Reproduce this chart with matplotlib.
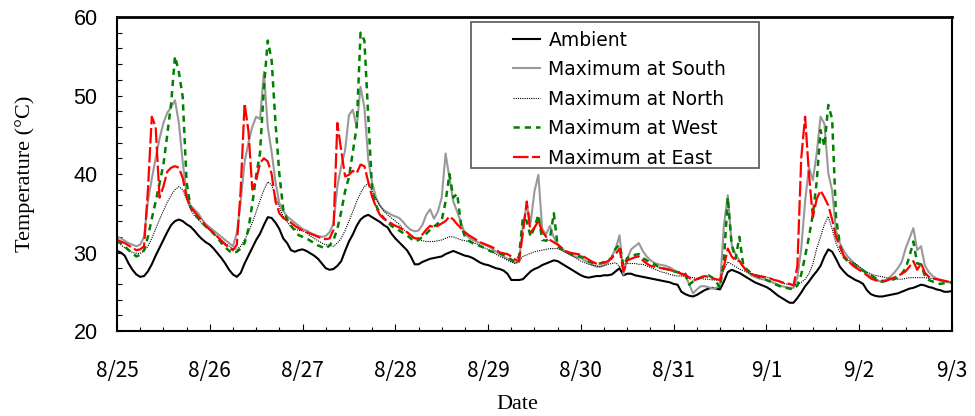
import numpy as np
import matplotlib.pyplot as plt
from matplotlib.ticker import MultipleLocator
from matplotlib.patches import Rectangle

# hourly readings, 8/25 0:00 to 9/3 0:00, one row per day
ambient = [
    30.2, 30.0, 29.6, 28.6, 27.8, 27.2, 26.9, 27.0, 27.6, 28.5, 29.6, 30.6, 31.6, 32.6, 33.5, 34.0, 34.2, 34.0, 33.6, 33.3, 32.8, 32.2, 31.7, 31.3,
    31.0, 30.5, 29.9, 29.3, 28.6, 27.8, 27.2, 26.9, 27.4, 28.6, 29.6, 30.6, 31.6, 32.4, 33.5, 34.5, 34.4, 33.8, 33.0, 31.8, 31.2, 30.3, 30.1, 30.3,
    30.4, 30.2, 29.9, 29.6, 29.2, 28.6, 28.0, 27.8, 27.9, 28.3, 28.9, 30.2, 31.4, 32.3, 33.4, 34.2, 34.6, 34.8, 34.5, 34.2, 33.9, 33.5, 33.2, 32.4,
    31.8, 31.3, 30.8, 30.3, 29.5, 28.5, 28.5, 28.8, 29.0, 29.2, 29.3, 29.4, 29.5, 29.8, 30.0, 30.2, 30.0, 29.8, 29.6, 29.5, 29.3, 29.0, 28.7, 28.5,
    28.4, 28.2, 28.0, 27.9, 27.7, 27.3, 26.5, 26.5, 26.5, 26.6, 27.1, 27.6, 27.9, 28.1, 28.4, 28.6, 28.8, 29.0, 28.9, 28.6, 28.3, 28.0, 27.7, 27.4,
    27.1, 26.9, 26.8, 26.9, 27.0, 27.0, 27.1, 27.1, 27.2, 27.6, 28.0, 27.1, 27.3, 27.3, 27.1, 27.0, 26.9, 26.8, 26.7, 26.6, 26.5, 26.4, 26.3, 26.2,
    26.0, 25.9, 25.0, 24.7, 24.5, 24.4, 24.6, 24.9, 25.2, 25.4, 25.5, 25.4, 25.3, 26.3, 27.5, 27.8, 27.6, 27.4, 27.1, 26.8, 26.5, 26.2, 26.0, 25.8,
    25.6, 25.3, 24.9, 24.5, 24.2, 23.9, 23.6, 23.6, 24.2, 24.9, 25.7, 26.3, 27.0, 27.6, 28.3, 29.5, 30.4, 30.1, 29.2, 28.2, 27.6, 27.1, 26.8, 26.5,
    26.3, 26.0, 25.2, 24.7, 24.5, 24.4, 24.4, 24.5, 24.6, 24.7, 24.8, 25.0, 25.2, 25.4, 25.5, 25.7, 25.9, 25.8, 25.6, 25.5, 25.3, 25.2, 25.0, 25.0,
    25.1]

south = [
    32.0, 31.8, 31.5, 31.2, 31.0, 30.8, 31.0, 32.0, 36.5, 39.4, 42.0, 44.5, 46.5, 47.8, 48.5, 49.4, 46.5, 41.5, 37.5, 36.0, 35.5, 35.0, 34.2, 33.6,
    33.2, 32.8, 32.4, 32.0, 31.6, 31.2, 30.8, 32.5, 36.5, 41.5, 44.0, 46.0, 47.3, 47.0, 53.0, 46.0, 42.8, 39.0, 36.3, 35.3, 34.6, 34.2, 33.8, 33.4,
    33.0, 32.8, 32.5, 32.3, 32.1, 32.0, 32.1, 32.6, 33.7, 38.4, 41.0, 43.0, 47.5, 48.2, 46.0, 51.1, 48.5, 41.8, 38.9, 37.0, 36.0, 35.4, 35.1, 34.8,
    34.6, 34.4, 33.9, 33.3, 32.9, 32.7, 32.8, 33.5, 34.8, 35.5, 34.3, 35.2, 37.0, 42.6, 39.5, 36.5, 35.2, 33.8, 32.4, 31.9, 31.6, 31.4, 31.2, 31.0,
    30.8, 30.5, 30.1, 29.8, 29.5, 29.2, 28.9, 28.7, 28.8, 33.5, 36.0, 33.8, 37.8, 39.9, 33.0, 32.3, 33.4, 31.9, 31.1, 30.6, 30.1, 29.8, 29.6, 29.4,
    29.3, 29.0, 28.7, 28.4, 28.2, 28.2, 28.4, 28.7, 29.5, 30.5, 32.2, 27.2, 29.2, 30.4, 30.8, 31.2, 30.2, 29.5, 29.0, 28.7, 28.5, 28.4, 28.3, 28.1,
    27.8, 27.5, 27.2, 27.0, 26.0, 24.8, 25.3, 25.7, 25.7, 25.6, 25.4, 25.5, 25.8, 33.5, 37.3, 31.0, 29.8, 29.0, 28.2, 27.6, 27.1, 26.9, 26.7, 26.6,
    26.5, 26.3, 26.1, 25.9, 25.7, 25.6, 25.5, 25.5, 26.8, 30.5, 36.5, 40.9, 39.2, 42.6, 47.3, 46.4, 40.1, 37.9, 32.8, 31.2, 30.2, 29.5, 29.0, 28.5,
    28.1, 27.7, 27.3, 27.0, 26.7, 26.4, 26.2, 26.5, 26.9, 27.4, 28.0, 28.8, 30.5, 31.8, 33.1, 30.3, 30.8, 28.3, 27.5, 27.0, 26.7, 26.4, 26.3, 26.2,
    26.2]

north = [
    31.4, 31.0, 30.6, 30.3, 30.0, 29.9, 29.9, 30.2, 30.8, 31.8, 33.0, 34.2, 35.3, 36.4, 37.3, 38.0, 38.4, 38.0, 36.8, 35.5, 34.7, 34.2, 33.7, 33.3,
    32.9, 32.5, 32.0, 31.6, 31.2, 30.8, 30.5, 30.4, 30.8, 31.6, 32.6, 33.8, 35.2, 36.6, 38.0, 39.0, 38.6, 37.2, 35.8, 34.6, 33.9, 33.3, 33.0, 32.8,
    32.8, 32.5, 32.1, 31.8, 31.5, 31.2, 31.0, 30.9, 30.8, 31.2, 31.8, 32.8, 34.0, 35.2, 36.5, 37.6, 38.4, 38.8, 37.8, 36.8, 36.0, 35.3, 34.8, 34.4,
    34.0, 33.6, 33.0, 32.6, 32.2, 31.9, 31.7, 31.5, 31.4, 31.4, 31.4, 31.5, 31.6, 31.8, 32.0, 32.0, 31.8, 31.6, 31.5, 31.4, 31.3, 31.1, 30.9, 30.6,
    30.4, 30.1, 29.8, 29.5, 29.3, 29.0, 28.8, 28.6, 28.9, 29.5, 29.7, 29.9, 30.1, 30.2, 30.3, 30.4, 30.5, 30.5, 30.5, 30.3, 30.0, 29.8, 29.5, 29.2,
    28.9, 28.7, 28.5, 28.4, 28.3, 28.2, 28.3, 28.5, 28.6, 28.7, 28.2, 28.5, 28.6, 28.6, 28.6, 28.5, 28.5, 28.3, 28.1, 27.9, 27.7, 27.5, 27.4, 27.2,
    27.1, 27.0, 27.0, 27.0, 26.9, 26.8, 26.7, 26.7, 26.6, 26.6, 26.5, 26.5, 26.5, 27.8, 28.8, 28.5, 28.2, 27.9, 27.7, 27.5, 27.3, 27.2, 27.1, 27.0,
    26.9, 26.7, 26.5, 26.3, 26.1, 26.0, 25.9, 25.9, 25.9, 26.2, 26.6, 27.3, 28.5, 30.5, 32.0, 33.6, 34.6, 33.0, 31.2, 30.0, 29.5, 29.1, 28.8, 28.6,
    28.2, 27.8, 27.5, 27.3, 27.1, 27.0, 26.9, 26.8, 26.7, 26.7, 26.6, 26.6, 26.7, 26.8, 26.8, 26.8, 26.8, 26.8, 26.7, 26.7, 26.6, 26.6, 26.4, 26.3,
    26.3]

west = [
    31.6, 31.2, 30.8, 30.3, 29.9, 29.5, 29.7, 30.3, 32.0, 34.3, 36.5, 38.8, 41.2, 45.0, 49.0, 55.0, 53.0, 49.8, 39.0, 35.8, 35.0, 34.4, 33.8, 33.3,
    32.9, 32.4, 31.9, 31.2, 30.7, 30.2, 29.9, 30.1, 30.5, 31.2, 33.0, 36.2, 39.8, 42.7, 51.0, 57.0, 54.5, 46.5, 40.0, 35.5, 34.2, 33.4, 32.8, 32.2,
    32.0, 31.8, 31.5, 31.2, 30.9, 30.7, 30.5, 30.9, 31.6, 33.0, 35.2, 37.8, 39.6, 42.8, 46.0, 58.0, 57.0, 47.3, 37.9, 36.0, 35.0, 34.4, 33.9, 33.4,
    33.1, 32.8, 32.5, 32.2, 31.8, 31.4, 31.6, 32.0, 32.4, 32.9, 33.3, 33.7, 34.1, 36.5, 40.0, 37.0, 37.5, 33.5, 32.0, 31.5, 31.2, 31.0, 30.8, 30.6,
    30.3, 30.1, 30.0, 29.9, 29.7, 29.4, 29.1, 28.8, 29.5, 34.5, 34.0, 32.0, 33.2, 34.8, 31.6, 31.5, 31.8, 35.0, 30.8, 30.4, 30.1, 29.9, 29.7, 29.5,
    29.5, 29.2, 28.9, 28.7, 28.6, 28.6, 28.8, 29.0, 29.3, 30.5, 31.0, 28.3, 29.3, 29.6, 29.7, 29.8, 29.3, 29.0, 28.7, 28.5, 28.2, 28.0, 27.9, 27.8,
    27.6, 27.5, 27.4, 27.3, 25.9, 26.3, 26.6, 26.8, 27.0, 27.1, 26.8, 26.3, 25.5, 29.0, 37.0, 31.0, 29.2, 32.0, 28.4, 27.8, 27.4, 27.1, 26.9, 26.7,
    26.5, 26.3, 26.0, 25.8, 25.6, 25.5, 25.4, 25.3, 25.8, 27.2, 29.5, 32.0, 34.8, 39.0, 45.6, 43.5, 48.8, 47.0, 34.5, 31.0, 29.4, 28.9, 28.6, 28.3,
    28.0, 27.7, 27.4, 27.1, 26.8, 26.5, 26.3, 26.4, 26.5, 26.6, 26.8, 27.3, 28.0, 29.5, 31.4, 28.6, 28.5, 27.0, 26.5, 26.3, 26.1, 26.0, 26.1, 26.2,
    26.2]

east = [
    31.6, 31.4, 31.2, 30.9, 30.6, 30.3, 30.4, 30.8, 38.0, 47.3, 46.0, 37.0, 38.4, 40.3, 40.8, 41.0, 40.8, 39.5, 37.0, 35.8, 35.2, 34.6, 34.0, 33.4,
    32.9, 32.5, 32.0, 31.5, 31.0, 30.6, 30.3, 31.0, 38.0, 49.0, 45.5, 38.0, 39.2, 41.4, 42.0, 41.6, 40.0, 36.5, 35.0, 34.4, 34.1, 33.8, 33.4, 33.1,
    32.8, 32.6, 32.4, 32.2, 32.0, 31.8, 31.7, 31.8, 32.9, 46.5, 43.0, 39.7, 39.9, 40.4, 40.1, 41.2, 41.0, 39.0, 37.1, 35.8, 34.8, 34.3, 34.0, 33.7,
    33.4, 33.2, 32.9, 32.6, 32.2, 31.8, 31.8, 32.3, 32.9, 33.4, 33.2, 33.4, 33.7, 34.0, 34.6, 34.2, 33.6, 33.1, 32.6, 32.2, 31.9, 31.6, 31.3, 31.1,
    30.9, 30.7, 30.4, 30.0, 29.9, 29.8, 29.5, 29.1, 28.9, 32.5, 36.5, 32.5, 33.2, 34.0, 32.7, 32.0, 31.6, 31.3, 31.0, 30.6, 30.2, 30.0, 29.9, 29.8,
    29.7, 29.4, 29.1, 28.8, 28.6, 28.6, 28.7, 28.9, 29.3, 29.8, 30.5, 27.6, 29.0, 29.2, 29.4, 29.5, 29.0, 28.6, 28.3, 28.2, 28.1, 28.0, 27.9, 27.8,
    27.6, 27.5, 27.3, 27.2, 26.8, 26.4, 26.6, 26.8, 27.0, 26.9, 26.7, 26.6, 26.5, 28.2, 30.5, 29.5, 29.0, 28.9, 28.2, 27.6, 27.3, 27.1, 27.0, 26.9,
    26.8, 26.7, 26.5, 26.4, 26.2, 26.1, 26.0, 25.8, 28.2, 42.0, 47.3, 40.0, 34.5, 36.8, 37.9, 37.0, 36.0, 34.2, 32.0, 30.8, 29.6, 29.0, 28.5, 28.1,
    27.8, 27.5, 27.1, 26.7, 26.5, 26.4, 26.4, 26.4, 26.6, 26.8, 27.0, 27.3, 27.6, 28.2, 28.9, 27.8, 28.6, 27.4, 26.9, 26.7, 26.6, 26.5, 26.4, 26.3,
    26.3]

date_labels = ['8/25', '8/26', '8/27', '8/28', '8/29', '8/30', '8/31', '9/1', '9/2', '9/3']

t = np.arange(len(ambient)) / 24.0   # days since 8/25 0:00

fig = plt.figure(figsize=(9.75, 4.16), dpi=100)
ax = fig.add_axes([0.12, 0.2043, 0.8564, 0.7548])

ax.plot(t, ambient, color='black', lw=1.5, label='Ambient')
ax.plot(t, south, color='#999999', lw=1.5, label='Maximum at South')
ax.plot(t, north, color='black', lw=0.8, linestyle=(0, (1, 1)), label='Maximum at North')
ax.plot(t, west, color='#008000', lw=1.8, linestyle=(0, (2.5, 2)), label='Maximum at West')
ax.plot(t, east, color='#ff0000', lw=1.6, linestyle=(0, (7, 1.6)), label='Maximum at East')

ax.set_xlim(0, 9)
ax.set_ylim(20, 60)
ax.set_xticks(range(len(date_labels)))
ax.set_xticklabels(date_labels, family=['Noto Sans CJK JP', 'DejaVu Sans'], fontsize=15)
ax.xaxis.set_minor_locator(MultipleLocator(0.25))
ax.yaxis.set_major_locator(MultipleLocator(10))
ax.yaxis.set_minor_locator(MultipleLocator(2))
for lab in ax.get_yticklabels():
    lab.set_family('Liberation Sans')
    lab.set_fontsize(15.5)

ax.tick_params(axis='x', which='major', direction='in', length=5, width=0.8, pad=21)
ax.tick_params(axis='x', which='minor', direction='in', length=3, width=0.8)
ax.tick_params(axis='y', which='both', direction='in', length=3.6, width=0.8, pad=14)
for s in ax.spines.values():
    s.set_linewidth(1.5)
ax.spines['top'].set_linewidth(2)

ax.set_xlabel('Date', family='Liberation Serif', fontsize=16)
ax.xaxis.set_label_coords(0.479, -0.205)
ax.set_ylabel('Temperature (°C)', family='Liberation Serif', fontsize=16, labelpad=28)

# legend box, wider than the entries as in the original
ax.add_patch(Rectangle((0.424, 0.519), 0.345, 0.465, transform=ax.transAxes,
                       facecolor='white', edgecolor='#555555', lw=1.2, zorder=4))
leg = ax.legend(loc='upper left', bbox_to_anchor=(0.474, 0.957), borderaxespad=0,
                frameon=False, prop={'family': 'DejaVu Sans', 'size': 13.5},
                handlelength=1.45, handletextpad=0.45, labelspacing=0.56, borderpad=0)
leg.set_zorder(5)

fig.savefig('out.png', dpi=100)
